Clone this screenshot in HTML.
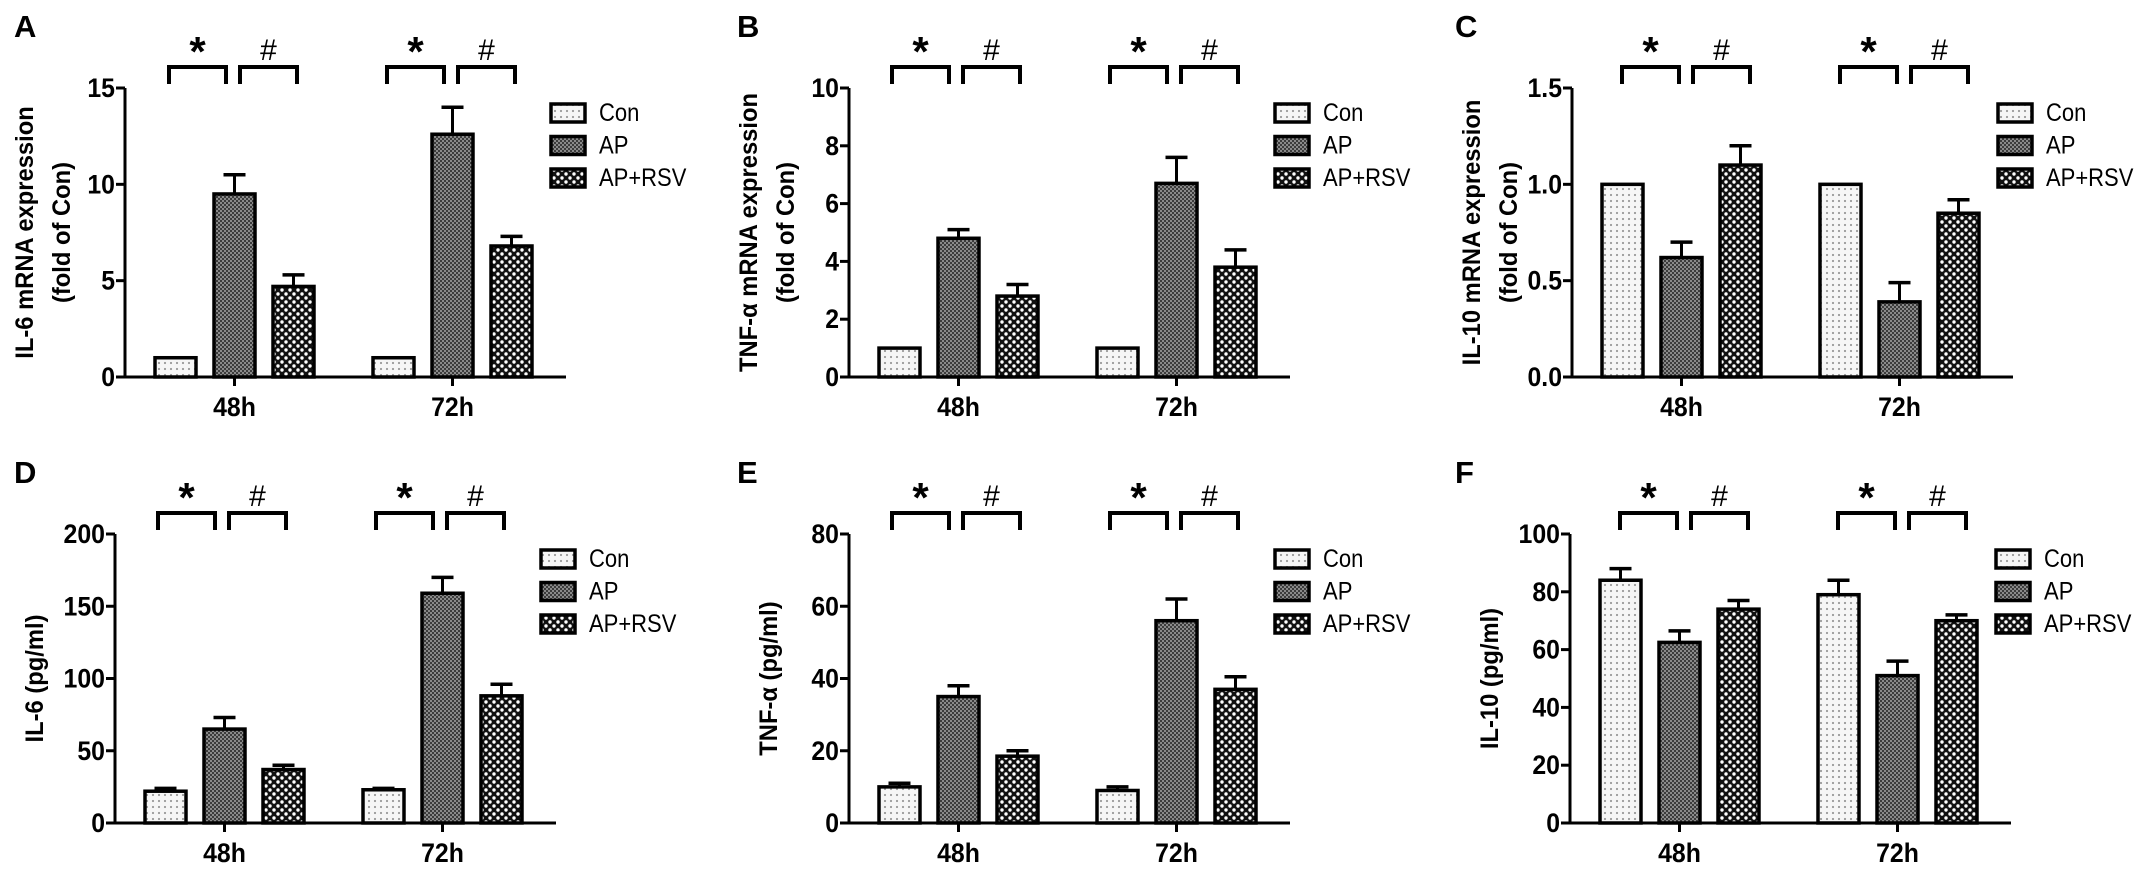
<!DOCTYPE html>
<html><head><meta charset="utf-8">
<style>
html,body{margin:0;padding:0;background:#fff;}
svg{display:block;}
text{font-family:"Liberation Sans",Arial,sans-serif;}
</style></head>
<body>
<svg id="fig" width="2150" height="873" viewBox="0 0 2150 873" xmlns="http://www.w3.org/2000/svg">
<defs>
<pattern id="pCon" width="6" height="6" patternUnits="userSpaceOnUse">
<rect width="6" height="6" fill="#f6f6f6"/><circle cx="3" cy="3" r="1.1" fill="#9a9a9a"/></pattern>
<pattern id="pAP" width="4" height="4" patternUnits="userSpaceOnUse">
<rect width="4" height="4" fill="#8a8a8a"/><rect width="2" height="2" fill="#3c3c3c"/><rect x="2" y="2" width="2" height="2" fill="#3c3c3c"/></pattern>
<pattern id="pRSV" width="8" height="8" patternUnits="userSpaceOnUse">
<rect width="8" height="8" fill="#111"/><circle cx="2" cy="2" r="1.7" fill="#fff"/><circle cx="6" cy="6" r="1.7" fill="#fff"/></pattern>
</defs>
</svg>
<script>
// ---- data ----
const groups = ["48h","72h"];
const seriesNames = ["Con","AP","AP+RSV"];
const aVals48 = [1, 9.5, 4.7];   const aErr48 = [0, 1.0, 0.6];
const aVals72 = [1, 12.6, 6.8];  const aErr72 = [0, 1.4, 0.5];
const aTicks = ["0","5","10","15"];
const bVals48 = [1, 4.8, 2.8];   const bErr48 = [0, 0.3, 0.4];
const bVals72 = [1, 6.7, 3.8];   const bErr72 = [0, 0.9, 0.6];
const bTicks = ["0","2","4","6","8","10"];
const cVals48 = [1, 0.62, 1.10]; const cErr48 = [0, 0.08, 0.10];
const cVals72 = [1, 0.39, 0.85]; const cErr72 = [0, 0.10, 0.07];
const cTicks = ["0.0","0.5","1.0","1.5"];
const dVals48 = [22, 65, 37];    const dErr48 = [2, 8, 3];
const dVals72 = [23, 159, 88];   const dErr72 = [1, 11, 8];
const dTicks = ["0","50","100","150","200"];
const eVals48 = [10, 35, 18.5];  const eErr48 = [1, 3, 1.5];
const eVals72 = [9, 56, 37];     const eErr72 = [1, 6, 3.5];
const eTicks = ["0","20","40","60","80"];
const fVals48 = [84, 62.5, 74];  const fErr48 = [4, 4, 3];
const fVals72 = [79, 51, 70];    const fErr72 = [5, 5, 2];
const fTicks = ["0","20","40","60","80","100"];

const NS="http://www.w3.org/2000/svg";
const svg=document.getElementById('fig');
const fills=["url(#pCon)","url(#pAP)","url(#pRSV)"];
function mk(tag,attrs,parent){const e=document.createElementNS(NS,tag);for(const k in attrs)e.setAttribute(k,attrs[k]);(parent||svg).appendChild(e);return e;}
function condense(t,f){const w=t.getComputedTextLength();t.setAttribute('textLength',(w*f).toFixed(1));t.setAttribute('lengthAdjust','spacingAndGlyphs');}

function panel(id,letter,lx,ax,top,ticks,max,vals,errs,titleLines,brOff){
  const g=mk('g',{});
  
  
  const zero=top+289, H=289, W=441;
  const y=v=>zero-v/max*H;
  const x=(gi,si)=>ax+30+gi*218+si*59;
  const lt=mk('text',{x:lx,y:top-51,'font-size':31,'font-weight':'bold'},g);lt.textContent=letter;
  
  
  const tx = titleLines.length===2 ? [ax-100, ax-63] : [ax-80];
  titleLines.forEach((t,i)=>{
    const tt=mk('text',{x:tx[i],y:top+H/2,'font-size':25,'font-weight':'bold','text-anchor':'middle','dominant-baseline':'central',transform:`rotate(-90 ${tx[i]} ${top+H/2})`},g);
    tt.textContent=t;
    
    
    condense(tt,0.95);
  });
  ticks.forEach((t,i)=>{
    const v=parseFloat(t); const yy=y(v);
    mk('line',{x1:ax-9,x2:ax,y1:yy,y2:yy,stroke:'#000','stroke-width':3},g);
    const tl=mk('text',{x:ax-10,y:yy,'font-size':27,'font-weight':'bold','text-anchor':'end','dominant-baseline':'central'},g);
    tl.textContent=t;
    
    
    condense(tl,0.92);
  });
  groups.forEach((gn,gi)=>{
    vals[gi].forEach((v,si)=>{
      const bx=x(gi,si), by=y(v);
      const r=mk('rect',{x:bx,y:by,width:41,height:zero-by,fill:fills[si],stroke:'#000','stroke-width':3.5},g);
      
      
      const e=errs[gi][si];
      if(e>0){
        const cx=bx+20.5, ey=y(v+e);
        mk('line',{x1:cx,x2:cx,y1:by,y2:ey,stroke:'#000','stroke-width':3},g);
        mk('line',{x1:cx-11,x2:cx+11,y1:ey,y2:ey,stroke:'#000','stroke-width':3.5},g);
      }
    });
    const cx=ax+30+gi*218+79.5;
    mk('line',{x1:cx,x2:cx,y1:zero,y2:zero+9,stroke:'#000','stroke-width':3},g);
    const gl=mk('text',{x:cx,y:zero+39,'font-size':27,'font-weight':'bold','text-anchor':'middle'},g);
    gl.textContent=gn;
    
    
    condense(gl,0.92);
    [[brOff,'*'],[brOff+71,'#']].forEach(([o,s])=>{
      const x1=ax+o+gi*218, x2=x1+57;
      mk('path',{d:`M${x1} ${top-4} V${top-21} H${x2} V${top-4}`,fill:'none',stroke:'#000','stroke-width':4},g);
      const st=mk('text',{x:(x1+x2)/2,y:s==='*'?top-22:top-28,'font-size':s==='*'?42:30,'font-weight':s==='*'?'bold':'normal','text-anchor':'middle'},g);
      st.textContent=s;
      
      
    });
  });
  mk('line',{x1:ax,x2:ax,y1:top,y2:zero+1.5,stroke:'#000','stroke-width':3},g);
  mk('line',{x1:ax,x2:ax+W,y1:zero,y2:zero,stroke:'#000','stroke-width':3},g);
  seriesNames.forEach((n,i)=>{
    const ly=top+25+i*32.5;
    const lb=mk('rect',{x:ax+426,y:ly-9,width:34,height:18,fill:fills[i],stroke:'#000','stroke-width':3.5},g);
    
    
    const ltx=mk('text',{x:ax+474,y:ly,'font-size':25,'dominant-baseline':'central'},g);
    ltx.textContent=n;
    
    
    condense(ltx,0.88);
  });
}
panel('a','A',14,125,88,aTicks,15,[aVals48,aVals72],[aErr48,aErr72],["IL-6 mRNA expression","(fold of Con)"],44);
panel('b','B',737,849,88,bTicks,10,[bVals48,bVals72],[bErr48,bErr72],["TNF-α mRNA expression","(fold of Con)"],43);
panel('c','C',1455,1572,88,cTicks,1.5,[cVals48,cVals72],[cErr48,cErr72],["IL-10 mRNA expression","(fold of Con)"],50);
panel('d','D',14,115,534,dTicks,200,[dVals48,dVals72],[dErr48,dErr72],["IL-6  (pg/ml)"],43);
panel('e','E',737,849,534,eTicks,80,[eVals48,eVals72],[eErr48,eErr72],["TNF-α  (pg/ml)"],43);
panel('f','F',1455,1570,534,fTicks,100,[fVals48,fVals72],[fErr48,fErr72],["IL-10  (pg/ml)"],50);
</script>
</body></html>
